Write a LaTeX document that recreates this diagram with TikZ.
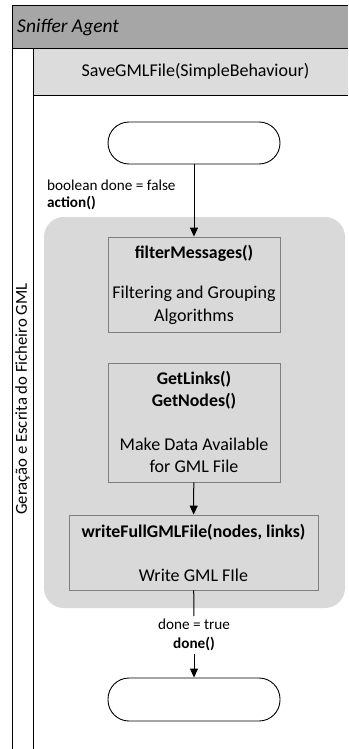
\documentclass[tikz,border=0pt]{standalone}
\usepackage{fontspec}
\setmainfont{Carlito}
\usetikzlibrary{arrows.meta}
\definecolor{hdr}{HTML}{A6A6A6}
\definecolor{bar}{HTML}{DCDCDC}
\definecolor{region}{HTML}{D9D9D9}
\definecolor{boxline}{HTML}{7F7F7F}
\tikzset{
  terminal/.style={draw=black, line width=0.9pt, fill=white, rounded corners=21pt, minimum width=172pt, minimum height=42pt, inner sep=0pt},
  procbox/.style={draw=boxline, line width=0.9pt, fill=region, minimum width=172pt, inner sep=0pt},
  boxtxt/.style={font=\fontsize{18}{21}\selectfont, inner sep=0pt, anchor=center},
  boldtxt/.style={font=\fontsize{17.8}{21}\selectfont\bfseries, inner sep=0pt, anchor=center},
  lbl/.style={font=\fontsize{15.2}{18}\selectfont, inner sep=0pt},
  flow/.style={line width=1pt, -{Triangle[width=8pt,length=9pt]}},
  plain/.style={line width=1pt},
  frame/.style={line width=0.9pt, draw=black}
}
\begin{document}
\begin{tikzpicture}[x=1pt,y=-1pt]
\useasboundingbox (0,0) rectangle (348,749);
% pool / lane frame
\fill[white] (0,0) rectangle (348,749);
\draw[frame, fill=hdr] (348,5) -- (12,5) -- (12,48) -- (348,48);
\draw[frame] (12,48) -- (12,749);
\draw[frame, fill=bar] (348,48) -- (33,48) -- (33,95) -- (348,95);
\draw[frame] (33,95) -- (33,749);
\node[anchor=west, inner sep=0pt, font=\fontsize{19.5}{23}\selectfont\itshape] (pool) at (17,27) {Sniffer Agent};
\node[inner sep=0pt, font=\fontsize{18}{21}\selectfont] (lanehead) at (195.5,71.5) {SaveGMLFile(SimpleBehaviour)};
\node[inner sep=0pt, rotate=90, font=\fontsize{16.7}{20}\selectfont] (lane) at (22.5,399) {Geração e Escrita do Ficheiro GML};
% grey region
\fill[region, rounded corners=20pt] (44,217) rectangle (345,608);
% nodes
\node[terminal] (start) at (194,143) {};
\node[procbox, minimum height=95pt] (filter) at (194,284.5) {};
\node[boldtxt] (filterA) at (194,253) {filterMessages()};
\node[boxtxt] (filterB) at (194,294) {Filtering and Grouping};
\node[boxtxt] (filterC) at (194,316.5) {Algorithms};
\node[procbox, minimum height=119pt] (links) at (194,422.5) {};
\node[boldtxt] (linksA) at (194,379) {GetLinks()};
\node[boldtxt] (linksB) at (194,401) {GetNodes()};
\node[boxtxt] (linksC) at (194,444) {Make Data Available};
\node[boxtxt] (linksD) at (194,466) {for GML File};
\node[procbox, minimum width=249pt, minimum height=75pt] (write) at (193.5,552.5) {};
\node[boldtxt] (writeA) at (193.5,532) {writeFullGMLFile(nodes, links)};
\node[boxtxt] (writeB) at (193.5,575) {Write GML FIle};
\node[terminal, minimum height=43pt] (end) at (194,699.5) {};
% labels
\node[lbl, anchor=west] (lblA) at (47,185) {boolean done = false};
\node[lbl, anchor=west, font=\fontsize{15.2}{18}\selectfont\bfseries] (lblB) at (47,203.5) {action()};
\node[lbl, align=center, inner sep=3pt] (lblC) at (194,635) {done = true\\[0.5pt]\textbf{done()}};
% connectors
\draw[flow] (start) -- (filter);
\draw[flow] (links) -- (write);
\draw[plain] (write) -- (lblC);
\draw[flow] (lblC) -- (end);
\end{tikzpicture}
\end{document}
